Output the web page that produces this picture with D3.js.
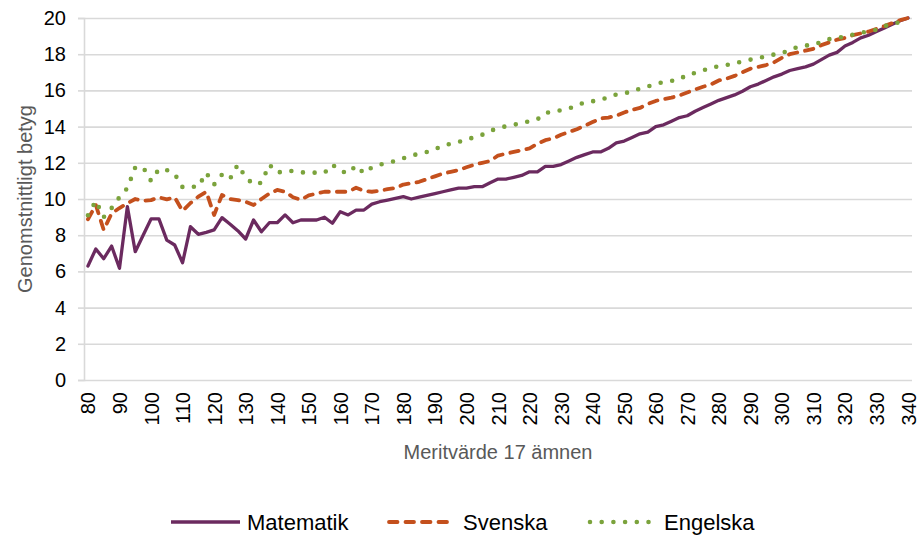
<!DOCTYPE html>
<html>
<head>
<meta charset="utf-8">
<script src="https://cdn.jsdelivr.net/npm/d3@7"></script>
<style>
  body { margin: 0; background: #fff; }
  svg { font-family: "Liberation Sans", Arial, sans-serif; }
</style>
</head>
<body>
<svg id="chart" width="924" height="541"></svg>
<script>
// --- Data ---
const meritValues = d3.range(80, 340.1, 2.5);

const matematik = [
  6.3, 7.24, 6.7, 7.4, 6.17, 9.58, 7.09, 8.0, 8.9, 8.9, 7.73, 7.46, 6.48, 8.47, 8.05, 8.16, 8.29, 8.97, 8.62, 8.25, 7.79,
  8.84, 8.19, 8.69, 8.69, 9.12, 8.69, 8.84, 8.84, 8.84, 8.99, 8.66, 9.3, 9.12, 9.39, 9.39, 9.72, 9.85, 9.94, 10.04, 10.13, 10.0,
  10.1, 10.2, 10.3, 10.4, 10.5, 10.6, 10.6, 10.68, 10.68, 10.9, 11.1, 11.1, 11.2, 11.3, 11.5, 11.5, 11.8, 11.8, 11.9, 12.1, 12.3,
  12.45, 12.6, 12.6, 12.8, 13.1, 13.2, 13.4, 13.6, 13.7, 14.0, 14.1, 14.3, 14.5, 14.6, 14.85, 15.05, 15.25, 15.45, 15.6, 15.75, 15.95,
  16.2, 16.35, 16.55, 16.75, 16.9, 17.1, 17.2, 17.3, 17.45, 17.7, 17.95, 18.1, 18.45, 18.65, 18.9, 19.05, 19.25, 19.45, 19.65, 19.85, 20.0
];

const svenska = [
  8.88, 9.67, 8.29, 9.2, 9.5, 9.76, 10.0, 9.9, 9.94, 10.09, 9.98, 10.09, 9.34, 9.78, 10.13, 10.4, 9.12, 10.22, 10.0, 9.94, 9.85,
  9.67, 10.0, 10.3, 10.5, 10.4, 10.1, 9.95, 10.2, 10.3, 10.4, 10.4, 10.4, 10.4, 10.62, 10.45, 10.4, 10.45, 10.55, 10.6, 10.8, 10.87,
  10.95, 11.1, 11.25, 11.4, 11.5, 11.6, 11.75, 11.9, 12.0, 12.1, 12.4, 12.5, 12.6, 12.7, 12.8, 13.05, 13.25, 13.35, 13.55, 13.7, 13.85,
  14.05, 14.25, 14.45, 14.5, 14.6, 14.78, 14.93, 15.03, 15.25, 15.42, 15.52, 15.6, 15.72, 15.88, 16.05, 16.2, 16.33, 16.55, 16.65, 16.8, 17.0,
  17.2, 17.3, 17.4, 17.55, 17.8, 18.0, 18.1, 18.2, 18.3, 18.5, 18.65, 18.8, 18.9, 19.05, 19.15, 19.25, 19.4, 19.55, 19.72, 19.88, 20.0
];

const engelska = [
  9.1, 9.9, 9.0, 9.5, 10.1, 10.6, 11.75, 11.75, 11.0, 11.65, 11.6, 11.38, 10.65, 10.68, 10.68, 11.45, 10.8, 11.35, 11.1, 11.9, 11.2,
  10.8, 10.9, 11.9, 11.45, 11.55, 11.55, 11.47, 11.47, 11.45, 11.45, 11.9, 11.55, 11.42, 11.85, 11.42, 11.75, 11.9, 12.0, 12.1, 12.25, 12.4,
  12.5, 12.6, 12.75, 12.95, 13.05, 13.15, 13.3, 13.4, 13.55, 13.77, 13.9, 14.02, 14.1, 14.2, 14.3, 14.4, 14.75, 14.83, 14.9, 15.0, 15.15,
  15.35, 15.4, 15.5, 15.6, 15.78, 15.85, 15.92, 16.1, 16.22, 16.35, 16.46, 16.53, 16.6, 16.88, 16.96, 17.1, 17.27, 17.32, 17.4, 17.5, 17.6,
  17.7, 17.77, 17.9, 17.98, 18.05, 18.25, 18.4, 18.48, 18.52, 18.68, 18.83, 18.9, 18.98, 19.08, 19.18, 19.27, 19.35, 19.55, 19.67, 19.78, 19.95
];

const seriesNames = ["Matematik", "Svenska", "Engelska"];
const xTicks = d3.range(80, 341, 10);
const yTicks = d3.range(0, 21, 2);

// --- Layout ---
const svg = d3.select("#chart");
const plot = { left: 84, right: 912, top: 18, bottom: 380 };

const x = d3.scaleLinear().domain([78.75, 341.25]).range([plot.left, plot.right]);
const y = d3.scaleLinear().domain([0, 20]).range([plot.bottom, plot.top]);

const styles = {
  Matematik: { color: "#6b2a5f", width: 3.3, dash: null },
  Svenska: { color: "#c4501d", width: 3.8, dash: "8.5,8" },
  Engelska: { color: "#7ba33c", width: 4.6, dash: "0,11.7" }
};

// --- Gridlines ---
svg.append("g")
  .attr("transform", `translate(${plot.left},0)`)
  .call(d3.axisLeft(y).tickValues(yTicks).tickSize(-(plot.right - plot.left)).tickFormat(""))
  .call(g => g.select(".domain").remove())
  .selectAll("line")
  .attr("stroke", "#d9d9d9")
  .attr("stroke-width", 1.6);

// --- Y axis ---
svg.append("g")
  .attr("transform", `translate(${plot.left},0)`)
  .call(d3.axisLeft(y).tickValues(yTicks).tickSize(6).tickPadding(12))
  .call(g => g.select(".domain").attr("stroke", "#d9d9d9").attr("stroke-width", 1.6))
  .call(g => g.selectAll("line").attr("stroke", "#d9d9d9").attr("stroke-width", 1.6))
  .call(g => g.selectAll("text")
    .attr("font-size", 20)
    .attr("font-family", "Liberation Sans, Arial, sans-serif")
    .attr("fill", "#000"));

// --- X axis ---
svg.append("g")
  .attr("transform", `translate(0,${plot.bottom})`)
  .call(d3.axisBottom(x).tickValues(xTicks).tickSize(0).tickPadding(0))
  .call(g => g.select(".domain").remove())
  .call(g => g.selectAll("text")
    .attr("font-size", 20)
    .attr("font-family", "Liberation Sans, Arial, sans-serif")
    .attr("fill", "#000")
    .attr("text-anchor", "end")
    .attr("transform", "translate(0,12) rotate(-90)")
    .attr("x", 0)
    .attr("y", 0)
    .attr("dy", "0.35em"));

// --- Axis titles ---
svg.append("text")
  .attr("x", (plot.left + plot.right) / 2)
  .attr("y", 459)
  .attr("text-anchor", "middle")
  .attr("font-size", 20)
  .attr("fill", "#595959")
  .text("Meritvärde 17 ämnen");

svg.append("text")
  .attr("transform", "rotate(-90)")
  .attr("x", -(plot.top + plot.bottom) / 2)
  .attr("y", 32)
  .attr("text-anchor", "middle")
  .attr("font-size", 20)
  .attr("fill", "#595959")
  .text("Genomstnittligt betyg");

// --- Lines ---
const line = d3.line()
  .x(d => x(d[0]))
  .y(d => y(d[1]));

const seriesData = {
  Matematik: matematik,
  Svenska: svenska,
  Engelska: engelska
};

seriesNames.forEach(name => {
  const s = styles[name];
  svg.append("path")
    .datum(meritValues.map((m, i) => [m, seriesData[name][i]]))
    .attr("fill", "none")
    .attr("stroke", s.color)
    .attr("stroke-width", s.width)
    .attr("stroke-linejoin", "round")
    .attr("stroke-linecap", "round")
    .attr("stroke-dasharray", s.dash)
    .attr("d", line);
});

// --- Legend ---
const legendPos = [171, 389, 590];
const legend = svg.append("g").attr("transform", "translate(0,522)");

const items = legend.selectAll(".legend-item")
  .data(seriesNames)
  .join("g")
  .attr("class", "legend-item")
  .attr("transform", (d, i) => `translate(${legendPos[i]},0)`);

items.append("line")
  .attr("x1", 0)
  .attr("x2", d => d === "Matematik" ? 69 : 64)
  .attr("y1", 0)
  .attr("y2", 0)
  .attr("stroke", d => styles[d].color)
  .attr("stroke-width", d => styles[d].width)
  .attr("stroke-linecap", d => d === "Matematik" ? "butt" : "round")
  .attr("stroke-dasharray", d => styles[d].dash);

items.append("text")
  .attr("x", d => d === "Matematik" ? 76 : 74)
  .attr("y", 8)
  .attr("font-size", 22)
  .attr("fill", "#000")
  .text(d => d);
</script>
</body>
</html>
